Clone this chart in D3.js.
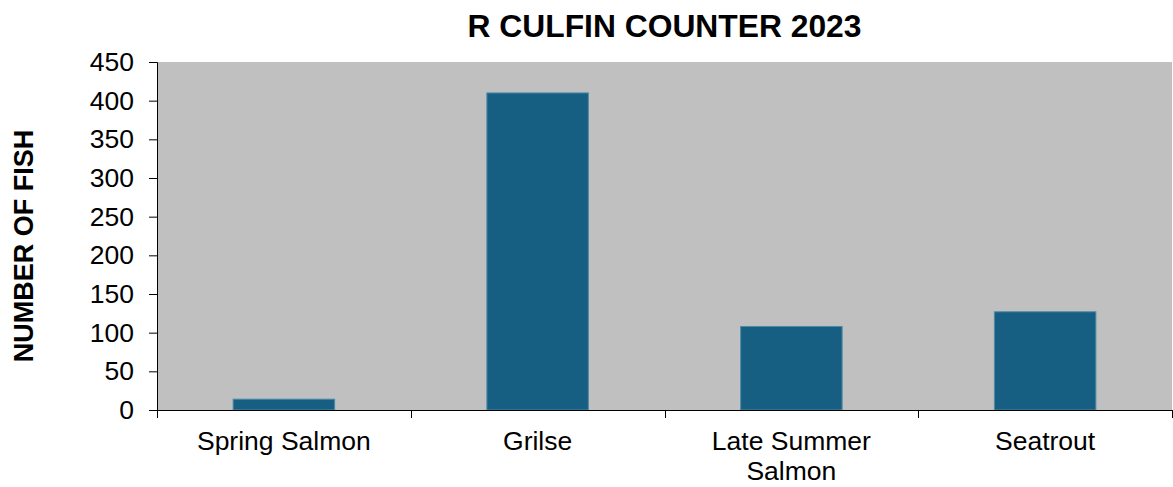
<!DOCTYPE html>
<html><head><meta charset="utf-8">
<script src="https://cdn.jsdelivr.net/npm/d3@7"></script>
<style>body{margin:0;background:#fff;}svg{display:block;font-family:"Liberation Sans",Arial,sans-serif;}</style>
</head><body>
<svg id="c" width="1173" height="487"></svg>
<script>
const categories = ["Spring Salmon", "Grilse", "Late Summer Salmon", "Seatrout"];
const values = [14, 410, 108, 127];
const yTicks = [0, 50, 100, 150, 200, 250, 300, 350, 400, 450];
const title = "R CULFIN COUNTER 2023";
const yLabel = "NUMBER OF FISH";

const svg = d3.select("#c");
const m = {left: 157, right: 1172, top: 62, bottom: 410};
const x = d3.scaleBand().domain(categories).range([m.left, m.right]).paddingInner(0.6).paddingOuter(0.3);
const xb = d3.scaleBand().domain(categories).range([m.left, m.right]);
const y = d3.scaleLinear().domain([0, 450]).range([m.bottom, m.top]);

svg.append("rect").attr("x", m.left).attr("y", m.top).attr("width", m.right - m.left).attr("height", m.bottom - m.top).attr("fill", "#c0c0c0");

svg.selectAll("rect.bar").data(values).join("rect").attr("class", "bar")
  .attr("x", (d, i) => x(categories[i])).attr("width", x.bandwidth())
  .attr("y", d => y(d)).attr("height", d => y(0) - y(d))
  .attr("fill", "#175f82").attr("stroke", "#4f8aa6").attr("stroke-width", 1);

// y axis
const ya = svg.append("g").attr("transform", `translate(${m.left},0)`)
  .call(d3.axisLeft(y).tickValues(yTicks).tickSize(8).tickPadding(15));
ya.select(".domain").attr("stroke", "#000");
ya.selectAll("text").attr("font-size", 26.5).attr("fill", "#000").attr("font-family", "Liberation Sans, Arial, sans-serif");

// x axis line + ticks at band boundaries
const g = svg.append("g");
g.append("line").attr("x1", m.left).attr("x2", m.right).attr("y1", m.bottom + 0.5).attr("y2", m.bottom + 0.5).attr("stroke", "#000");
const bounds = categories.map(c => xb(c)).concat([m.right]);
g.selectAll("line.t").data(bounds).join("line").attr("class", "t")
  .attr("x1", d => Math.round(d) + 0.5).attr("x2", d => Math.round(d) + 0.5)
  .attr("y1", m.bottom).attr("y2", m.bottom + 8).attr("stroke", "#000");

// x labels with wrapping
const lines = {"Late Summer Salmon": ["Late Summer", "Salmon"]};
categories.forEach(c => {
  const ls = lines[c] || [c];
  const t = svg.append("text").attr("x", xb(c) + xb.bandwidth() / 2).attr("y", 450)
    .attr("text-anchor", "middle").attr("font-size", 26.5).attr("fill", "#000");
  ls.forEach((l, i) => t.append("tspan").attr("x", xb(c) + xb.bandwidth() / 2).attr("dy", i ? 30 : 0).text(l));
});

svg.append("text").attr("x", (m.left + m.right) / 2).attr("y", 37).attr("text-anchor", "middle")
  .attr("font-size", 31.8).attr("font-weight", "bold").text(title);

svg.append("text").attr("transform", `translate(33,246) rotate(-90)`).attr("text-anchor", "middle")
  .attr("font-size", 27).attr("font-weight", "bold").text(yLabel);
</script>
</body></html>
